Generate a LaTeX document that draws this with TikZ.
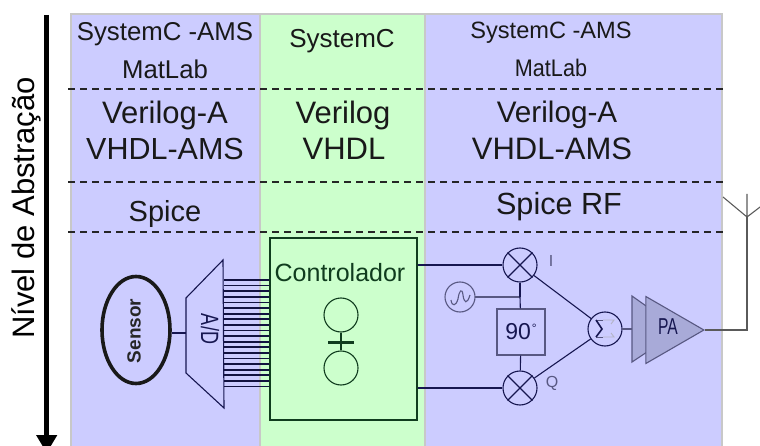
\documentclass[tikz,border=0pt]{standalone}
\usepackage{fontspec}
\setmainfont{Liberation Sans}
\usepackage{tikz}
\usetikzlibrary{calc, shapes.geometric, arrows.meta, positioning}
\definecolor{panelblue}{RGB}{204,204,255}
\definecolor{panelgreen}{RGB}{204,255,204}
\definecolor{paneledge}{RGB}{200,200,200}
\definecolor{navyline}{RGB}{22,22,80}
\definecolor{greenline}{RGB}{16,60,30}
\definecolor{softline}{RGB}{88,88,130}
\definecolor{antline}{RGB}{90,90,90}
\definecolor{pafill}{RGB}{168,170,216}

\begin{document}
\begin{tikzpicture}[
        x=1pt, y=-1pt,
        panel/.style = {draw=paneledge, line width=1.2pt},
        level/.style = {draw=black!85, line width=1.2pt, dash pattern=on 7pt off 5pt},
        tool/.style = {align=center, inner sep=0pt, text=black!90},
        wire/.style = {draw=navyline, line width=1.1pt},
        buswire/.style = {draw=navyline!80!black, line width=1.8pt},
        softwire/.style = {draw=softline, line width=1.1pt},
        antwire/.style = {draw=antline, line width=1.1pt},
        ctrlwire/.style = {draw=greenline, line width=1.1pt},
        mixer/.style = {draw=navyline, circle, line width=1.1pt, minimum size=34pt, inner sep=0pt},
        padgate/.style = {draw=greenline, circle, line width=1.1pt, minimum size=34pt, inner sep=0pt},
        smalltext/.style = {font=\fontsize{16}{16}\selectfont, text=softline, inner sep=0pt}
    ]
        \useasboundingbox (0,0) rectangle (760,446);

        % Panels
        \fill [panelblue] (71,14) rectangle (260,446);
        \fill [panelgreen] (260,14) rectangle (425,446);
        \fill [panelblue] (425,14) rectangle (722,446);
        \draw [panel] (71,446) -- (71,14) -- (722,14) -- (722,446);
        \draw [panel] (260,14) -- (260,446);
        \draw [panel] (425,14) -- (425,446);

        % Abstraction axis
        \coordinate (axistop) at (46.7,15);
        \coordinate (axisend) at (46.7,453);
        \draw [line width=5.5pt, -{Triangle[length=18pt, width=20pt]}] (axistop) -- (axisend);
        \node (axislabel) [rotate=90, inner sep=0pt, font=\fontsize{31}{31}\selectfont] at (26,208) {Nível de Abstração};

        % Level separators
        \foreach \y [count=\i] in {89, 182, 232} {
            \coordinate (levela\i) at (68,\y);
            \coordinate (levelb\i) at (723,\y);
            \draw [level] (levela\i) -- (levelb\i);
        }

        % Tool names
        \node (sysamsl) [tool, font=\fontsize{25.8}{25.8}\selectfont] at (165,34) {SystemC -AMS};
        \node (matlabl) [tool, font=\fontsize{25.7}{25.7}\selectfont] at (165,69) {MatLab};
        \node (veriloga) [tool, font=\fontsize{31}{31}\selectfont] at (165,115) {Verilog-A};
        \node (vhdlamsl) [tool, font=\fontsize{30.5}{30.5}\selectfont] at (165,149) {VHDL-AMS};
        \node (spicel) [tool, font=\fontsize{29}{29}\selectfont] at (165,214) {Spice};

        \node (sysc) [tool, font=\fontsize{26}{26}\selectfont] at (342,41) {SystemC};
        \node (verilog) [tool, font=\fontsize{31}{31}\selectfont] at (343,115) {Verilog};
        \node (vhdl) [tool, font=\fontsize{31}{31}\selectfont] at (344,149) {VHDL};

        \node (sysamsr) [tool, font=\fontsize{23.6}{23.6}\selectfont] at (551,33) {SystemC -AMS};
        \node (matlabr) [tool, font=\fontsize{24}{24}\selectfont] at (551,68) {\scalebox{0.9}[1]{MatLab}};
        \node (verilogar) [tool, font=\fontsize{29.7}{29.7}\selectfont] at (557,115) {Verilog-A};
        \node (vhdlamsr) [tool, font=\fontsize{31}{31}\selectfont] at (552,149) {VHDL-AMS};
        \node (spicerf) [tool, font=\fontsize{30.6}{30.6}\selectfont] at (559,207) {Spice RF};

        % Sensor and converter
        \node (sensor) [draw=black!90, ellipse, line width=3.6pt, minimum width=68pt, minimum height=107pt, inner sep=0pt] at (136,330) {};
        \node (sensorlabel) [rotate=90, inner sep=0pt, font=\fontsize{19}{19}\selectfont\bfseries, text=black!85] at (134,331) {Sensor};
        \coordinate (adin) at (186,333);
        \draw [wire, fill=none] (186,298) -- (223,260) -- (224,408) -- (186,373) -- cycle;
        \node (adlabel) [rotate=-90, inner sep=0pt, text=navyline, font=\fontsize{25}{25}\selectfont] at (210,329) {\scalebox{0.72}[1]{A/D}};
        \draw [wire] (sensor.east |- adin) -- (adin);

        % Bus to the controller
        \foreach \i in {0,...,19} {
            \coordinate (busa\i) at (224,{280+\i*5.6});
            \coordinate (busb\i) at (270,{280+\i*5.6});
            \draw [buswire] (busa\i) -- (busb\i);
        }

        % Controller
        \node (ctrl) [draw=greenline, fill=panelgreen, line width=1.3pt, minimum width=147pt, minimum height=182pt, inner sep=0pt] at (343.5,329) {};
        \node (ctrllabel) [inner sep=0pt, text=greenline, font=\fontsize{25}{25}\selectfont] at (340,273) {Controlador};
        \node (gatetop) [padgate] at (341,315) {};
        \node (gatebot) [padgate] at (341,368) {};
        \coordinate (platel) at (328,342);
        \coordinate (plater) at (354,342);
        \draw [ctrlwire] (gatetop) -- (gatebot);
        \draw [draw=greenline, line width=3pt] (platel) -- (plater);

        % Quadrature modulator
        \node (mixi) [mixer] at (520,265) {};
        \node (mixq) [mixer] at (520,388) {};
        \draw [wire] (mixi.45) -- (mixi.225) (mixi.135) -- (mixi.315);
        \draw [wire] (mixq.45) -- (mixq.225) (mixq.135) -- (mixq.315);
        \node (ilabel) [smalltext, right=11pt of mixi.east, yshift=4pt] {I};
        \node (qlabel) [smalltext, right=8pt of mixq.east, yshift=5pt] {Q};
        \node (shift) [draw=softline, line width=1.1pt, minimum width=48pt, minimum height=46pt, inner sep=0pt, text=navyline, font=\fontsize{23}{23}\selectfont] at (521,332) {90\kern1pt\raisebox{7pt}{\fontsize{12}{12}\selectfont °}};
        \node (osc) [draw=softline, circle, line width=1.1pt, minimum size=30pt, inner sep=0pt] at (460,297) {};
        \draw [softwire] ($(osc)+(-9,3)$) .. controls ($(osc)+(-8,10)$) and ($(osc)+(-4,9)$) .. ($(osc)+(-2,2)$) .. controls ($(osc)+(-1,-6)$) and ($(osc)+(2,-10)$) .. ($(osc)+(3,-2)$) .. controls ($(osc)+(4,6)$) and ($(osc)+(7,8)$) .. ($(osc)+(10,-2)$);
        \coordinate (oscjoin) at (520,297);
        \draw [softwire] (osc) ++(15,0) -- (oscjoin);
        \draw [wire] (mixi) -- (oscjoin);
        \draw [wire] (oscjoin) -- (shift);
        \draw [wire] (shift) -- (mixq);
        \draw [wire] (ctrl.east |- mixi) -- (mixi);
        \draw [wire] (ctrl.east |- mixq) -- (mixq);

        % Summing junction
        \node (summer) [mixer] at (605,329) {};
        \draw [wire] (mixi) -- (summer);
        \draw [wire] (mixq) -- (summer);
        \draw [draw=softline!45, line width=0.9pt] ($(summer)+(-2,-9)$) -- ($(summer)+(9,-9)$) -- ($(summer)+(6,-5)$) ($(summer)+(-2,8)$) -- ($(summer)+(9,8)$) -- ($(summer)+(6,4)$);
        \draw [draw=softline, line width=1pt] ($(summer)+(-9,-9)$) -- ($(summer)+(-2,-9)$) ($(summer)+(-9,8)$) -- ($(summer)+(-2,8)$);
        \draw [draw=navyline, line width=1.6pt] ($(summer)+(-9,-9)$) -- ($(summer)+(-3,0)$) -- ($(summer)+(-9,8)$);

        % Power amplifier
        \coordinate (pain) at (632,329);
        \draw [softwire] (summer) ++(17,0) -- (pain);
        \draw [softwire, fill=pafill] (632,296) -- (680,330) -- (632,362) -- cycle;
        \node (pa) [draw=softline, fill=pafill, isosceles triangle, isosceles triangle apex angle=60, line width=1.1pt, inner sep=0pt, minimum height=58pt, minimum width=66pt, anchor=apex] at (705,330) {};
        \node (palabel) [inner sep=0pt, text=navyline, font=\fontsize{23}{23}\selectfont] at (668,327) {\scalebox{0.68}[1]{PA}};

        % Antenna
        \coordinate (antfoot) at (747,217);
        \coordinate (anttop) at (747,194);
        \coordinate (antleft) at (723,197);
        \coordinate (antright) at (764,204);
        \coordinate (antcorner) at (747,330);
        \draw [antwire] (pa.apex) -- (antcorner) -- (antfoot);
        \draw [antwire] (anttop) -- (antfoot) (antleft) -- (antfoot) -- (antright);
    \end{tikzpicture}
\end{document}
